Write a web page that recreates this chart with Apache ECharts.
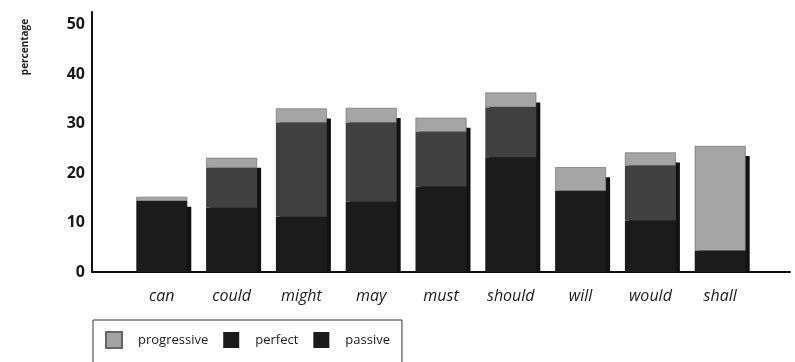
<!DOCTYPE html>
<html>
<head>
<meta charset="utf-8">
<script src="https://cdn.jsdelivr.net/npm/echarts@6/dist/echarts.min.js"></script>
<style>
html,body{margin:0;padding:0;background:#fff;}
#chart{width:795px;height:362px;}
</style>
</head>
<body>
<div id="chart"></div>
<script>
const categories = ['can','could','might','may','must','should','will','would','shall'];
const passive     = [14.4, 13.0, 11.2, 14.2, 17.3, 23.2, 16.4, 10.4, 4.3];
const perfect     = [0,    8.1,  19.0, 16.0, 11.0, 10.1, 0,    11.1, 0];
const progressive = [0.8,  2.0,  2.9,  3.0,  2.9,  3.0,  4.8,  2.7,  21.2];
const yTicks = [0, 10, 20, 30, 40, 50];

const totals = categories.map((c, i) => passive[i] + perfect[i] + progressive[i]);

const chart = echarts.init(document.getElementById('chart'));
const font = "'Open Sans', 'DejaVu Sans', sans-serif";
chart.setOption({
  animation: false,
  grid: { left: 92, right: 5, top: 12, bottom: 90 },
  xAxis: {
    type: 'category',
    data: categories,
    boundaryGap: false,
    min: -1,
    max: 9,
    axisLine: { lineStyle: { color: '#111', width: 2 } },
    axisTick: { show: false },
    axisLabel: { margin: 16, fontFamily: font, fontStyle: 'italic', fontSize: 16, color: '#1a1a1a' },
    splitLine: { show: false }
  },
  yAxis: {
    type: 'value',
    min: 0,
    max: 52.6,
    interval: 10,
    axisLine: { show: true, lineStyle: { color: '#111', width: 2 } },
    axisTick: { show: false },
    splitLine: { show: false },
    axisLabel: {
      margin: 7, fontFamily: font, fontWeight: 'bold', fontSize: 16, color: '#1a1a1a',
      padding: [0, 0, 12, 0],
      formatter: v => (yTicks.indexOf(v) >= 0 ? String(v) : '')
    }
  },
  legend: {
    left: 93, top: 320,
    padding: [11, 12, 40, 12],
    borderColor: '#333', borderWidth: 1,
    itemWidth: 16, itemHeight: 16, itemGap: 15,
    icon: 'rect',
    textStyle: { fontFamily: font, fontSize: 13, color: '#1a1a1a', padding: [0, 0, 0, 11] },
    data: [
      { name: 'progressive', itemStyle: { color: '#a3a3a3' } },
      { name: 'perfect', itemStyle: { color: '#1b1b1b' } },
      { name: 'passive', itemStyle: { color: '#1b1b1b' } }
    ]
  },
  graphic: [{
    type: 'text', x: 25, y: 47, rotation: Math.PI / 2,
    style: { text: 'percentage', font: "bold 10px 'Open Sans', sans-serif", fill: '#222', align: 'center', verticalAlign: 'middle' }
  }],
  series: [
    {
      type: 'custom', name: 'shadow', z: 1, silent: true,
      data: categories.map((c, i) => [i, totals[i]]),
      renderItem: function (params, api) {
        const top = api.coord([api.value(0), api.value(1)]);
        const base = api.coord([api.value(0), 0]);
        const w = 51;
        return { type: 'rect', shape: { x: top[0] - w / 2 + 4, y: top[1] + 10, width: w, height: base[1] - top[1] - 10 }, style: { fill: '#121212' } };
      }
    },
    { name: 'passive', type: 'bar', stack: 's', z: 2, barWidth: 51, data: passive, itemStyle: { color: '#1b1b1b' } },
    { name: 'perfect', type: 'bar', stack: 's', z: 2, barWidth: 51, data: perfect, itemStyle: { color: '#404040' } },
    { name: 'progressive', type: 'bar', stack: 's', z: 2, barWidth: 51, data: progressive, itemStyle: { color: '#a5a5a5', borderColor: '#666', borderWidth: 0.6 } }
  ]
});
</script>
</body>
</html>
